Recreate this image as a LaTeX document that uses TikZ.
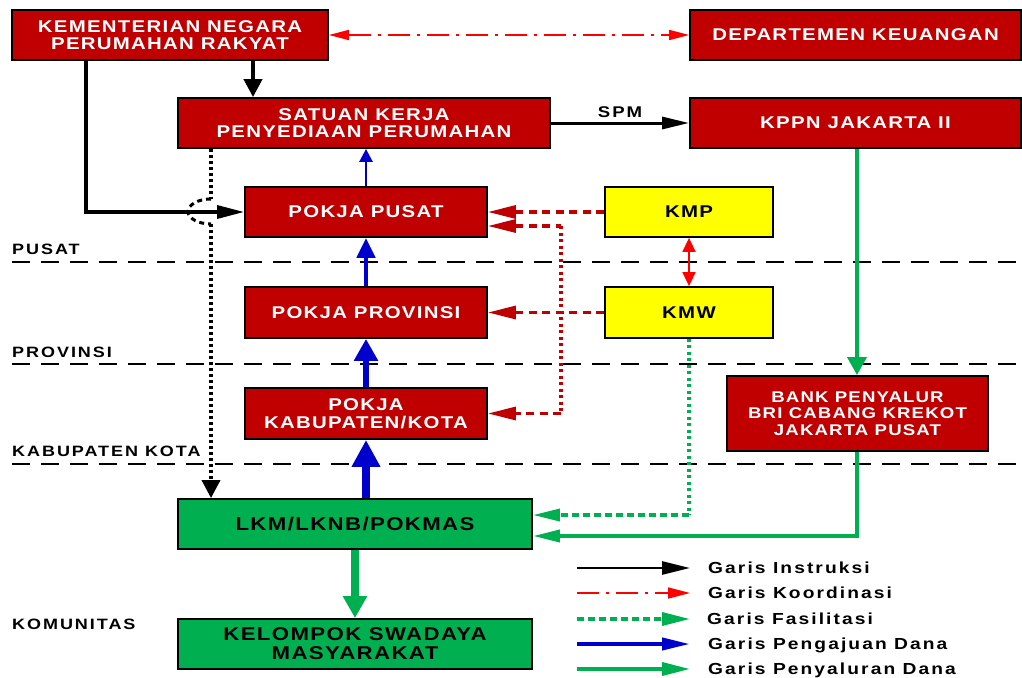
\documentclass[tikz,border=0pt]{standalone}
\usepackage{fontspec}
\setmainfont{Liberation Sans}[FakeStretch=1.2,LetterSpace=7.5]
\newfontfamily\widefont{Liberation Sans}[FakeStretch=1.2,LetterSpace=13]
\usetikzlibrary{arrows.meta}
\definecolor{dred}{HTML}{C00000}
\definecolor{ylw}{HTML}{FFFF00}
\definecolor{grn}{HTML}{00B050}
\definecolor{blu}{HTML}{0000CC}
\definecolor{rred}{HTML}{FF0000}
\newcommand{\fsz}[2]{\fontsize{#1}{#2}\selectfont}
\begin{document}
\begin{tikzpicture}[x=1pt,y=-1pt,
  box/.style={draw=black,line width=1.8pt,inner sep=0pt,align=center},
  rbox/.style={box,fill=dred,text=white,font=\bfseries\fsz{17}{17.5}},
  ybox/.style={box,fill=ylw,text=black,font=\bfseries\fsz{17}{17.5}},
  gbox/.style={box,fill=grn,text=black,font=\bfseries\fsz{18.5}{19}},
  lvl/.style={anchor=base west,inner sep=0pt,font=\widefont\bfseries\fsz{15}{16}},
  legtext/.style={anchor=base west,inner sep=0pt,font=\widefont\bfseries\fsz{16}{17}},
  sep/.style={black,line width=1.6pt,dash pattern=on 18pt off 11pt},
  koord/.style={rred,line width=1.6pt,dash pattern=on 22pt off 7pt on 3pt off 7pt},
  instr/.style={black,line width=3.3pt},
  fasr/.style={dred,line width=3.2pt,dash pattern=on 8pt off 5.5pt},
  fasrdot/.style={dred,line width=3.2pt,dash pattern=on 3pt off 3.5pt},
  fasg/.style={grn,line width=3.5pt,dash pattern=on 7pt off 4pt},
  fasgdot/.style={grn,line width=3.5pt,dash pattern=on 3pt off 3.5pt},
  peng/.style={blu},
  pen/.style={grn,line width=3.6pt},
  tip/.style 2 args={-{Triangle[length=#1,width=#2]}},
  tipb/.style 2 args={{Triangle[length=#1,width=#2]}-{Triangle[length=#1,width=#2]}},
  tipl/.style 2 args={{Triangle[length=#1,width=#2]}-}
]
\useasboundingbox (0,0) rectangle (1022,677);

% level separators
\coordinate (sl) at (12,0);
\coordinate (sr) at (1022,0);
\coordinate (s1) at (0,262);
\coordinate (s2) at (0,364);
\coordinate (s3) at (0,464);
\draw[sep] (sl |- s1) -- (sr |- s1);
\draw[sep] (sl |- s2) -- (sr |- s2);
\draw[sep] (sl |- s3) -- (sr |- s3);

\node[lvl] (lp) at (12,254) {PUSAT};
\node[lvl] (lpr) at (12,357) {PROVINSI};
\node[lvl] (lk) at (12,456) {KABUPATEN KOTA};
\node[lvl] (lkom) at (12,629) {KOMUNITAS};

% boxes
\node[rbox,minimum width=316pt,minimum height=50pt] (kem) at (170,35) {KEMENTERIAN NEGARA\\PERUMAHAN RAKYAT};
\node[rbox,minimum width=331pt,minimum height=50pt] (dep) at (855.5,35) {DEPARTEMEN KEUANGAN};
\node[rbox,minimum width=372pt,minimum height=50pt] (sat) at (364,123) {SATUAN KERJA\\PENYEDIAAN PERUMAHAN};
\node[rbox,minimum width=331pt,minimum height=50pt] (kppn) at (855.5,123) {KPPN JAKARTA II};
\node[rbox,minimum width=242pt,minimum height=50pt] (pp) at (366,212) {POKJA PUSAT};
\node[ybox,minimum width=168pt,minimum height=50pt] (kmp) at (689,212) {KMP};
\node[rbox,minimum width=242pt,minimum height=51pt] (pprov) at (366,312.5) {POKJA PROVINSI};
\node[ybox,minimum width=168pt,minimum height=51pt] (kmw) at (689,312.5) {KMW};
\node[rbox,minimum width=242pt,minimum height=51pt] (pkab) at (366,413.5) {POKJA\\KABUPATEN/KOTA};
\node[rbox,minimum width=261pt,minimum height=75pt,font=\bfseries\fsz{15.5}{16.5}] (bank) at (857.5,413.5) {BANK PENYALUR\\BRI CABANG KREKOT\\JAKARTA PUSAT};
\node[gbox,minimum width=354pt,minimum height=50pt] (lkm) at (355,524) {LKM/LKNB/POKMAS};
\node[gbox,minimum width=354pt,minimum height=50pt] (ksm) at (355,644) {KELOMPOK SWADAYA\\MASYARAKAT};

% helper coordinates
\coordinate (xk1) at (253,0);
\coordinate (xk2) at (86,0);
\coordinate (xd) at (211,0);
\coordinate (xr) at (561,0);
\coordinate (xg) at (857,0);
\coordinate (yr2) at (0,226);
\coordinate (yfas) at (0,515);
\coordinate (ypen) at (0,536);
\coordinate (hop1) at (211,199);
\coordinate (hop2) at (211,224);

% coordination
\draw[koord,tipb={20pt}{10pt}] (kem.east) -- (dep.west);
\draw[koord,tipb={14pt}{13pt}] (kmp.south) -- (kmw.north);

% instruction
\draw[instr,line width=4pt,tip={18pt}{18pt}] (kem.south -| xk1) -- (sat.north -| xk1);
\draw[instr,tip={27pt}{13pt}] (kem.south -| xk2) |- (pp.west);
\draw[instr,line width=3pt,tip={27pt}{12pt}] (sat.east) -- node[above=4pt,inner sep=0pt,font=\widefont\bfseries\fsz{15.5}{16}] (spm) {SPM} (kppn.west);
\draw[black,line width=3.5pt,dash pattern=on 3pt off 3pt] (sat.south -| xd) -- (hop1);
\draw[black,line width=3pt,dash pattern=on 5pt off 4pt] (hop1) arc[start angle=-90,end angle=-270,x radius=23,y radius=12.5];
\draw[black,line width=3.5pt,dash pattern=on 3pt off 3pt,tip={18pt}{18pt}] (hop2) -- (lkm.north -| xd);

% submission of funds (blue)
\draw[peng,line width=2.6pt,tip={13pt}{13pt}] (pp.north) -- (pp.north |- sat.south);
\draw[peng,line width=4.5pt,tip={20pt}{18pt}] (pprov.north) -- (pp.south);
\draw[peng,line width=6.5pt,tip={22pt}{23pt}] (pkab.north) -- (pprov.south);
\draw[peng,line width=8.5pt,tip={27pt}{27pt}] (pkab.south |- lkm.north) -- (pkab.south);

% facilitation (red)
\draw[fasr,tip={28pt}{13pt}] (kmp.west) -- (pp.east);
\draw[fasr,tip={28pt}{13pt}] (kmw.west) -- (pprov.east);
\draw[fasr,tipl={28pt}{13pt}] (pp.east |- yr2) -- (yr2 -| xr);
\draw[fasrdot] (yr2 -| xr) -- (pkab.east -| xr);
\draw[fasr,tip={28pt}{13pt}] (pkab.east -| xr) -- (pkab.east);

% facilitation (green)
\draw[fasgdot] (kmw.south) -- (yfas -| kmw.south);
\draw[fasg,tip={27pt}{12pt}] (yfas -| kmw.south) -- (lkm.east |- yfas);

% disbursement (green)
\draw[pen,tip={18pt}{19pt}] (kppn.south -| xg) -- (bank.north -| xg);
\draw[pen,tip={27pt}{12pt}] (bank.south -| xg) |- (lkm.east |- ypen);
\draw[pen,line width=7.5pt,tip={22pt}{23pt}] (lkm.south) -- (ksm.north);

% legend
\coordinate (lx0) at (577,0);
\coordinate (lx1) at (690,0);
\coordinate (ly1) at (0,568);
\coordinate (ly2) at (0,593);
\coordinate (ly3) at (0,619);
\coordinate (ly4) at (0,644);
\coordinate (ly5) at (0,669);
\node[legtext] (g1) at (708,573) {Garis Instruksi};
\node[legtext] (g2) at (708,598) {Garis Koordinasi};
\node[legtext] (g3) at (707,624) {Garis Fasilitasi};
\node[legtext] (g4) at (708,649) {Garis Pengajuan Dana};
\node[legtext] (g5) at (708,674) {Garis Penyaluran Dana};
\draw[instr,line width=2.8pt,tip={28pt}{13pt}] (lx0 |- ly1) -- (lx1 |- ly1);
\draw[koord,tip={22pt}{11pt}] (lx0 |- ly2) -- (lx1 |- ly2);
\draw[fasg,tip={28pt}{13pt}] (lx0 |- ly3) -- (lx1 |- ly3);
\draw[peng,line width=4pt,tip={28pt}{12pt}] (lx0 |- ly4) -- (lx1 |- ly4);
\draw[pen,tip={28pt}{13pt}] (lx0 |- ly5) -- (lx1 |- ly5);
\end{tikzpicture}
\end{document}
